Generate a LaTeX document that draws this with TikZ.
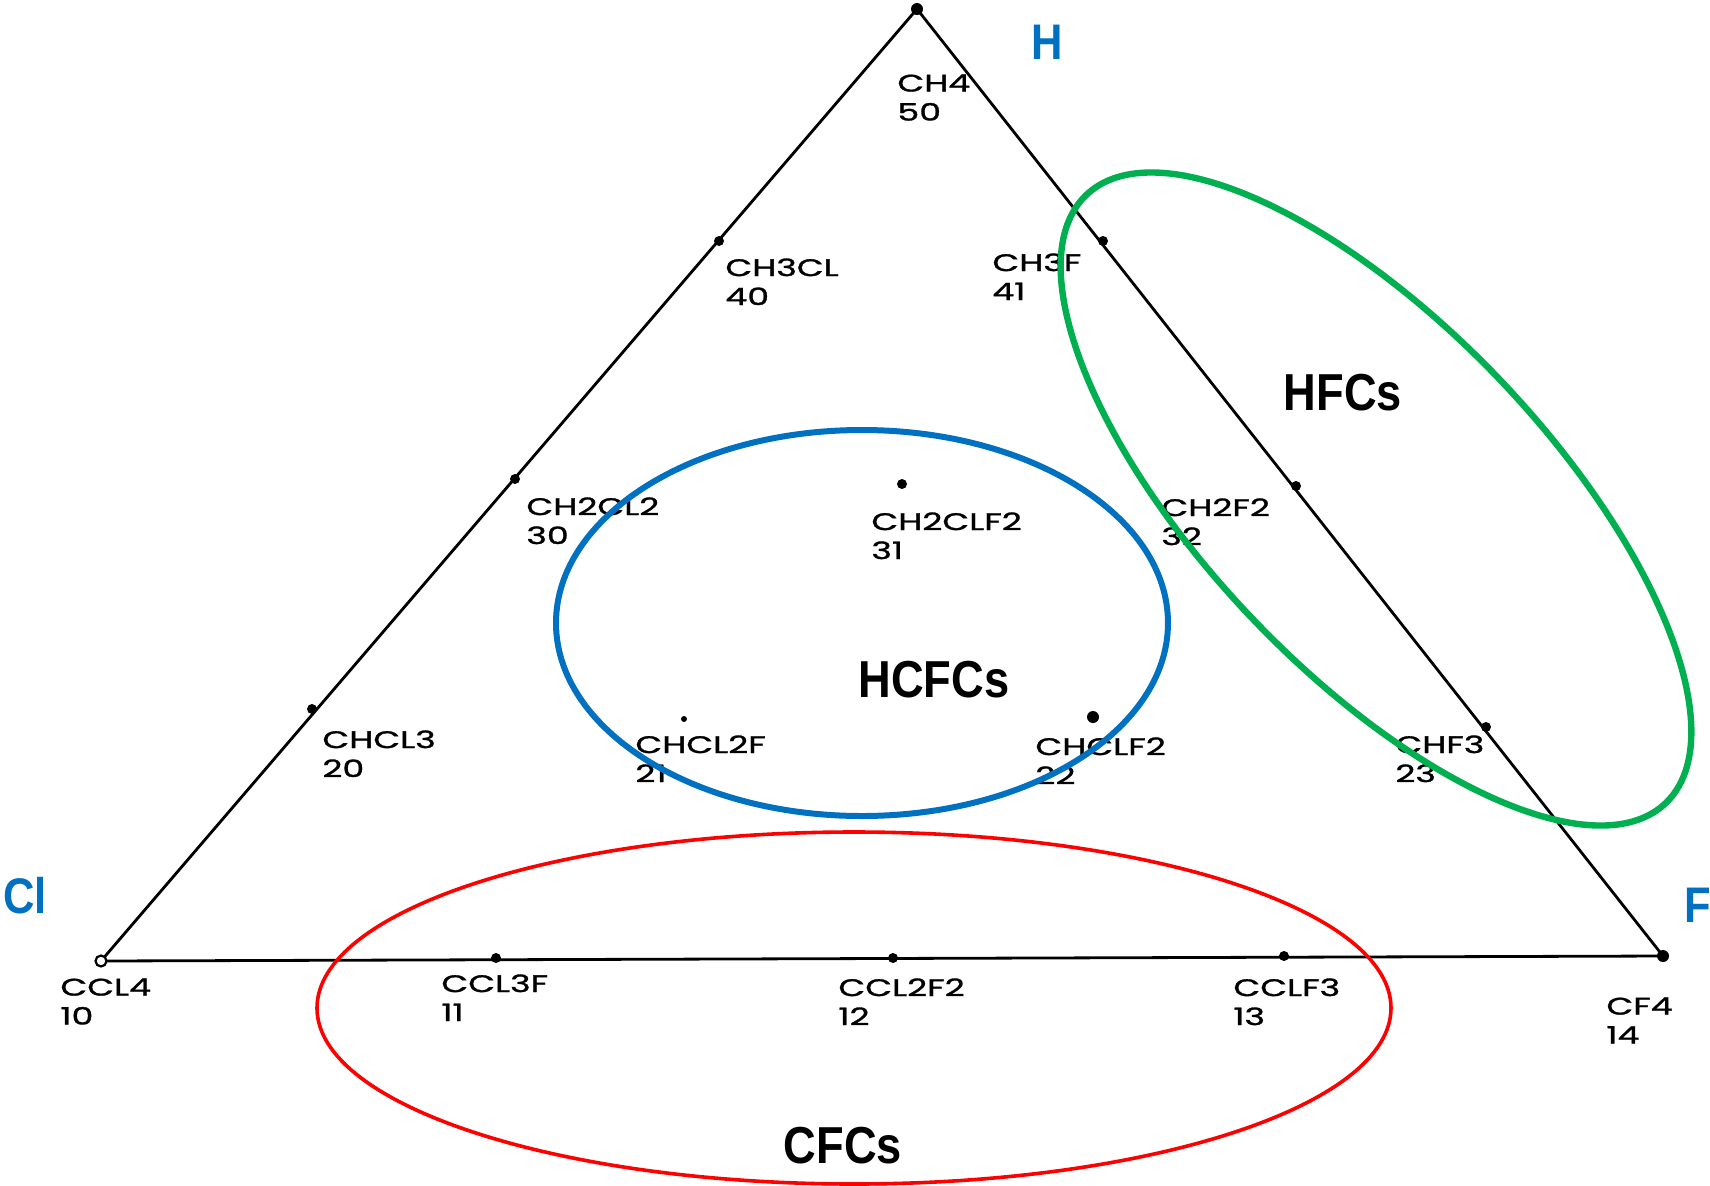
\documentclass[tikz,border=0pt]{standalone}
\usepackage{fontspec}
\newfontfamily\labfont[FakeStretch=1.45,FakeBold=1.2]{Poppins}
\newfontfamily\bigfont[FakeStretch=0.87]{Liberation Sans}
\definecolor{hblue}{HTML}{0070C0}
\definecolor{hgreen}{HTML}{00B050}
\definecolor{hred}{HTML}{FF0000}
\begin{document}
\begin{tikzpicture}[x=0.5pt,y=-0.5pt,
  edge/.style={draw=black,line width=1.4pt,line join=round},
  dot/.style={circle,fill=black,inner sep=0pt,minimum size=5pt},
  chem/.style={anchor=north west,inner sep=0pt,align=left,font=\labfont\fontsize{12pt}{14.5pt}\selectfont},
  grp/.style={font=\bigfont\bfseries\fontsize{26pt}{30pt}\selectfont,inner sep=0pt},
  elem/.style={font=\bigfont\bfseries\fontsize{25pt}{30pt}\selectfont,text=hblue,inner sep=0pt}]
\useasboundingbox[fill=white] (0,0) rectangle (1710,1185);
% vertices
\coordinate (H) at (917,9);
\coordinate (Cl) at (101,961);
\coordinate (F) at (1663,956);
\draw[edge] (Cl) -- (H) -- (F) -- cycle;
% marks
\node[dot,minimum size=6pt] (m50) at (H) {};
\node[circle,draw=black,line width=1.1pt,fill=white,inner sep=0pt,minimum size=5.5pt] (m10) at (Cl) {};
\node[dot,minimum size=6pt] (m14) at (F) {};
\node[dot] (m40) at (719,241) {};
\node[dot] (m30) at (515,479) {};
\node[dot] (m20) at (312,709) {};
\node[dot] (m41) at (1103,241) {};
\node[dot] (m32) at (1296,486) {};
\node[dot] (m23) at (1486,727) {};
\node[dot] (m11) at (496,958) {};
\node[dot] (m12) at (893,958) {};
\node[dot] (m13) at (1284,956) {};
\node[dot] (m31) at (902,484) {};
\node[dot,minimum size=3pt] (m21) at (684,719) {};
\node[dot,minimum size=6pt] (m22) at (1093,717) {};
% labels
\node[chem] (l50) at (897,74) {CH4\\50};
\node[chem] (l40) at (725,258) {CH3CL\\40};
\node[chem] (l41) at (992,253) {CH3F\\41};
\node[chem] (l30) at (526,497) {CH2CL2\\30};
\node[chem] (l31) at (871,512) {CH2CLF2\\31};
\node[chem] (l32) at (1161,498) {CH2F2\\32};
\node[chem] (l20) at (322,730) {CHCL3\\20};
\node[chem] (l21) at (635,735) {CHCL2F\\21};
\node[chem] (l22) at (1035,737) {CHCLF2\\22};
\node[chem] (l23) at (1395,735) {CHF3\\23};
\node[chem] (l10) at (60,978) {CCL4\\10};
\node[chem] (l11) at (441,974) {CCL3F\\11};
\node[chem] (l12) at (838,978) {CCL2F2\\12};
\node[chem] (l13) at (1233,978) {CCLF3\\13};
\node[chem] (l14) at (1606,997) {CF4\\14};
% group ellipses
\draw[hblue,line width=3pt] (862,623) ellipse [x radius=306, y radius=193];
\draw[hred,line width=1.8pt] (854,1008) ellipse [x radius=537, y radius=176];
\draw[hgreen,line width=3.2pt,rotate around={-46.4:(1376,499)}] (1376,499) ellipse [x radius=420, y radius=172];
% group names
\node[grp] (hcfc) at (934,680) {HCFCs};
\node[grp] (hfc) at (1343,393) {HFCs};
\node[grp] (cfc) at (843,1146) {CFCs};
% element names
\node[elem] (eH) at (1047,42) {H};
\node[elem] (eCl) at (25,896) {Cl};
\node[elem] (eF) at (1698,905) {F};
\end{tikzpicture}
\end{document}
